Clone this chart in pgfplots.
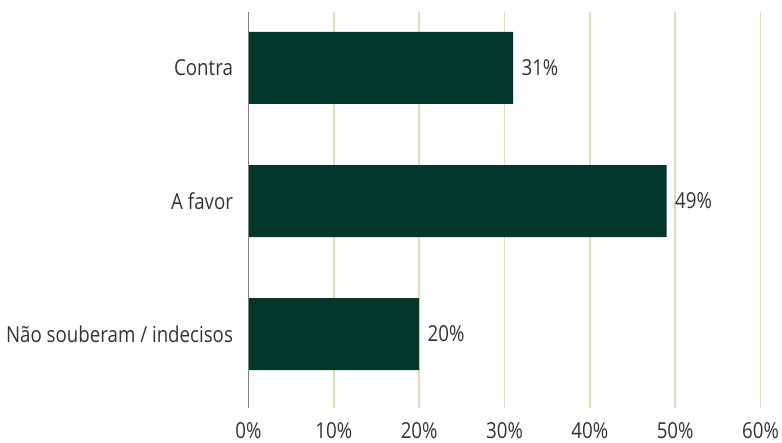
\documentclass[border=0pt]{standalone}
\usepackage{fontspec}
\setmainfont{Open Sans}[FakeStretch=0.85]
\usepackage{pgfplots}
\pgfplotsset{compat=1.18}
\definecolor{barc}{HTML}{03362B}
\definecolor{gridc}{HTML}{DEDDBE}
\definecolor{txt}{HTML}{333333}
\begin{document}
\begin{tikzpicture}
\useasboundingbox (0,0) rectangle (782pt,443pt);
\begin{axis}[
  at={(248.5pt,35pt)}, anchor=south west,
  scale only axis, width=512pt, height=396pt,
  xbar, bar width=72pt,
  xmin=0, xmax=60, ymin=-0.556, ymax=2.421,
  ytick={0,1,2},
  yticklabels={Não souberam / indecisos, A favor, Contra},
  xtick={0,10,...,60},
  xticklabel={\pgfmathprintnumber{\tick}\%},
  /pgf/number format/assume math mode=true,
  major tick length=0pt,
  axis line style={draw=none},
  xmajorgrids, grid style={draw=gridc, line width=1.5pt},
  tick label style={font=\fontsize{22}{26}\selectfont, text=txt},
  yticklabel style={xshift=-12pt},
  xticklabel style={yshift=-11pt},
  clip=false,
  nodes near coords={\pgfmathprintnumber{\pgfplotspointmeta}\%},
  nodes near coords style={anchor=west, xshift=5pt, text=txt, font=\fontsize{22}{26}\selectfont},
]
\addplot[fill=barc, draw=none] coordinates {(20,0) (49,1) (31,2)};
\draw[black!50, line width=1.6pt] (rel axis cs:0,0) -- (rel axis cs:0,1);
\end{axis}
\end{tikzpicture}
\end{document}
